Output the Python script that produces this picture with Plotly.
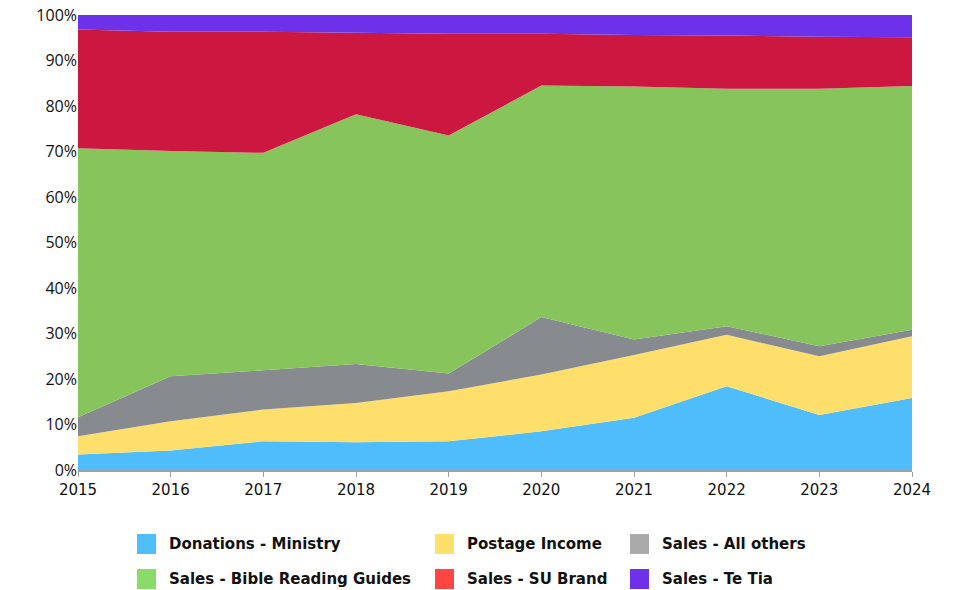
import plotly.graph_objects as go

years = [2015, 2016, 2017, 2018, 2019, 2020, 2021, 2022, 2023, 2024]

donations_ministry = [3.4, 4.3, 6.3, 6.1, 6.3, 8.5, 11.5, 18.4, 12.1, 15.8]
postage_income = [4.0, 6.4, 7.0, 8.6, 11.0, 12.5, 13.8, 11.3, 12.9, 13.6]
sales_all_others = [4.2, 9.9, 8.6, 8.6, 3.9, 12.6, 3.4, 1.9, 2.2, 1.4]
sales_bible_guides = [59.1, 49.5, 47.8, 54.9, 52.3, 50.9, 55.6, 52.2, 56.6, 53.6]
sales_su_brand = [26.1, 26.2, 26.6, 17.9, 22.4, 11.4, 11.3, 11.7, 11.4, 10.7]
sales_te_tia = [3.2, 3.7, 3.7, 3.9, 4.1, 4.1, 4.4, 4.5, 4.8, 4.9]

series_names = ["Donations - Ministry", "Postage Income", "Sales - All others",
                "Sales - Bible Reading Guides", "Sales - SU Brand", "Sales - Te Tia"]
series_values = [donations_ministry, postage_income, sales_all_others,
                 sales_bible_guides, sales_su_brand, sales_te_tia]
area_colors = ["#4FBDFC", "#FFDF6B", "#878A8F", "#87C55C", "#CC1840", "#6E31EA"]
legend_colors = ["#4FBEFF", "#FFE06A", "#AAAAAA", "#8BDB6B", "#FF4444", "#6E31E8"]

fig = go.Figure()
for name, vals, col in zip(series_names, series_values, area_colors):
    fig.add_trace(go.Scatter(
        x=years, y=vals, name=name, mode="lines",
        stackgroup="one", groupnorm="percent",
        line=dict(width=0, color=col), fillcolor=col,
        showlegend=False,
    ))

# page offset (body margin) compensation
OFF = 8
W, H = 956, 590
PL, PR, PT, PB = 78 - OFF, 912 - OFF, 15 - OFF, 470 - OFF  # plot area in figure px


def px_to_paper_x(px):
    return (px - OFF - PL) / (PR - PL)


def px_to_paper_y(py):
    return (PB - (py - OFF)) / (PB - PT)


# Manual legend (3 columns x 2 rows)
col_x = [137, 435, 630]
row_y = [544, 579]
shapes = []
annotations = []
for i, name in enumerate(series_names):
    c = i % 3
    r = i // 3
    x0 = col_x[c]
    yc = row_y[r]
    shapes.append(dict(type="rect", xref="paper", yref="paper",
                       x0=px_to_paper_x(x0), x1=px_to_paper_x(x0 + 19),
                       y0=px_to_paper_y(yc + 10), y1=px_to_paper_y(yc - 10),
                       fillcolor=legend_colors[i], line=dict(width=0)))
    annotations.append(dict(xref="paper", yref="paper",
                            x=px_to_paper_x(x0 + 30), y=px_to_paper_y(yc),
                            xanchor="left", yanchor="middle", showarrow=False,
                            text=name,
                            font=dict(family="DejaVu Sans", size=15, color="#111111", weight="bold")))

fig.update_layout(
    template="none",
    width=W, height=H,
    margin=dict(l=PL, r=W - PR, t=PT, b=H - PB, pad=0),
    plot_bgcolor="white", paper_bgcolor="white",
    showlegend=False,
    shapes=shapes, annotations=annotations,
    xaxis=dict(range=[2015, 2024], tickmode="array", tickvals=years,
               ticktext=[str(y) for y in years], automargin=False,
               showgrid=False, zeroline=False, showline=True, linecolor="#A0A0A0",
               linewidth=1.5, ticks="outside", ticklen=5, tickcolor="#A0A0A0",
               ticklabeloverflow="allow",
               tickfont=dict(family="DejaVu Sans", size=15, color="#111111")),
    yaxis=dict(range=[0, 100], dtick=10, ticksuffix="%", showgrid=False,
               zeroline=False, showline=False, automargin=False, ticks="",
               ticklabeloverflow="allow",
               tickfont=dict(family="Open Sans", size=16, color="#111111")),
)

fig.write_html("out.html")
